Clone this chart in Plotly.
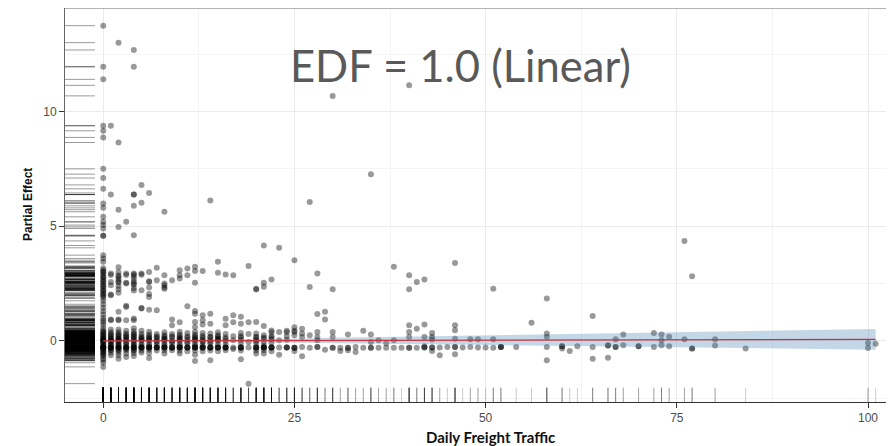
import plotly.graph_objects as go

# ---------------- data ----------------
# dense band around zero: column x value and the partial effects in that column
core_cols = [0, 1, 2, 3, 4, 5, 6, 7, 8, 9, 10, 11, 12, 13, 14, 15, 16, 17, 18, 19, 20,
             21, 22, 23, 24, 25, 26, 27, 28, 29, 30, 31, 32, 33, 34, 35, 36, 37, 38, 39, 40,
             41, 42, 43, 44, 45, 46, 47, 48, 49, 50, 51, 52, 54, 56, 58, 60, 61, 62, 64,
             66, 67, 68, 70, 72, 73, 74, 76, 77, 80, 84, 100, 101]
core_vals = [
    [0.55, 0.45, 0.35, 0.25, 0.15, 0.05, -0.05, -0.15, -0.25, -0.3, -0.35, -0.45, -0.55, -0.65, -0.75, -0.84, -0.95, -1.13],
    [0.5, 0.38, 0.25, 0.12, 0.0, -0.1, -0.2, -0.29, -0.38, -0.5, -0.62],
    [0.5, 0.38, 0.25, 0.12, 0.0, -0.1, -0.2, -0.29, -0.38, -0.5, -0.62, -0.78],
    [0.45, 0.33, 0.2, 0.08, -0.05, -0.18, -0.29, -0.4, -0.55, -0.7],
    [0.55, 0.42, 0.3, 0.18, 0.05, -0.08, -0.2, -0.29, -0.4, -0.52, -0.66],
    [0.45, 0.3, 0.15, 0.02, -0.12, -0.29, -0.4, -0.5],
    [0.4, 0.28, 0.15, 0.02, -0.12, -0.29, -0.38, -0.52, -0.74],
    [0.3, 0.15, 0.0, -0.15, -0.29, -0.42],
    [0.38, 0.25, 0.12, 0.0, -0.12, -0.29, -0.4, -0.55],
    [0.3, 0.15, 0.02, -0.1, -0.29, -0.4],
    [0.4, 0.28, 0.15, 0.02, -0.12, -0.29, -0.42, -0.55],
    [0.35, 0.2, 0.05, -0.1, -0.29, -0.45],
    [0.4, 0.28, 0.15, 0.02, -0.12, -0.29, -0.42, -0.6],
    [0.35, 0.22, 0.08, -0.05, -0.18, -0.29, -0.45],
    [0.32, 0.18, 0.05, -0.1, -0.29, -0.42],
    [0.38, 0.25, 0.12, 0.0, -0.15, -0.29, -0.45],
    [0.3, 0.15, 0.0, -0.15, -0.29, -0.4],
    [0.2, 0.03, -0.29, -0.35],
    [0.35, 0.2, 0.05, -0.1, -0.29, -0.42],
    [0.3, -0.05, -0.29],
    [0.32, 0.18, 0.05, -0.1, -0.29, -0.42, -0.55],
    [0.25, 0.1, -0.05, -0.2, -0.29, -0.4, -0.55],
    [0.38, 0.22, 0.08, -0.08, -0.29, -0.45],
    [0.03, -0.29, -0.6],
    [0.38, 0.2, 0.05, -0.29],
    [0.44, 0.39, 0.25, -0.3, -0.44],
    [0.53, 0.32, 0.17, -0.26, -0.67],
    [0.25, -0.3],
    [0.39, 0.17, 0.03, -0.26],
    [-0.38],
    [0.39, 0.17, -0.3],
    [-0.3, -0.44],
    [0.28, -0.3, -0.4],
    [-0.26, -0.48],
    [0.44, -0.3],
    [0.28, -0.04, -0.3],
    [0.03, -0.3],
    [-0.1, -0.3],
    [0.03, -0.3],
    [-0.3],
    [0.68, 0.39, 0.17, -0.3],
    [0.53, -0.3],
    [0.72, 0.17, -0.23, -0.29],
    [0.35, 0.17, 0.06, -0.29, -0.44],
    [-0.29, -0.62],
    [-0.26],
    [0.68, 0.47, 0.1, -0.26, -0.58],
    [-0.29],
    [0.07, -0.26],
    [0.07, -0.29],
    [-0.29],
    [0.07, -0.3],
    [-0.26, -0.26],
    [-0.26],
    [0.79],
    [0.32, 0.17, -0.26, -0.84],
    [-0.23, -0.33],
    [-0.44],
    [-0.23],
    [1.09, -0.26, -0.77],
    [-0.2, -0.2, -0.73],
    [0.07, -0.26, -0.26],
    [0.28, -0.19],
    [-0.23, -0.23],
    [0.35, -0.26],
    [0.28, 0.03, -0.19],
    [0.18, -0.23],
    [0.07],
    [-0.33, -0.33],
    [0.07, -0.2],
    [-0.33],
    [-0.09, -0.31],
    [-0.12],
]

# repeated (overlapping) observations in the darkest part of the band
dense_cols = [0, 1, 2, 3, 4, 5, 6, 7, 8, 9, 10, 11, 12, 13, 14, 15, 16, 18, 20, 21, 22, 24, 25,
              28, 30, 32, 35, 40, 42, 43, 46, 52, 60]
dense_vals = [
    [0.3, 0.1, -0.1, -0.29, -0.29, -0.4, -0.2, 0.0, 0.2, -0.5, -0.6, 0.4, -0.29, 0.1, -0.29, 0.0],
    [0.3, 0.1, -0.29, -0.29, -0.4, 0.05, -0.15, -0.29, 0.2, 0.0],
    [0.3, 0.1, -0.29, -0.29, -0.4, 0.05, -0.15, 0.2, -0.29, 0.0],
    [0.25, 0.05, -0.29, -0.29, -0.35, -0.1, -0.29, 0.15],
    [0.3, 0.1, -0.29, -0.29, -0.4, 0.0, -0.15, -0.29, 0.2],
    [0.2, 0.05, -0.29, -0.29, -0.2, -0.29, 0.1],
    [0.2, 0.05, -0.29, -0.29, -0.2, -0.29, 0.1],
    [0.2, -0.29, -0.29, -0.05, -0.29, 0.1],
    [0.2, 0.05, -0.29, -0.29, -0.2, -0.29, 0.1],
    [0.2, -0.29, -0.29, -0.05, -0.29],
    [0.2, 0.05, -0.29, -0.29, -0.2, -0.29, 0.1],
    [0.15, -0.29, -0.29, -0.05, -0.29],
    [0.2, 0.05, -0.29, -0.29, -0.2, -0.29, 0.1],
    [0.15, -0.29, -0.29, 0.0, -0.29],
    [0.15, -0.29, -0.29, -0.05, -0.29],
    [0.2, -0.29, -0.29, 0.05, -0.29, 0.1],
    [0.1, -0.29, -0.29, -0.29],
    [0.15, -0.29, -0.29, -0.29],
    [0.15, -0.29, -0.29, 0.0, -0.29],
    [0.15, -0.29, -0.29, -0.29],
    [0.15, -0.29, -0.29, -0.29],
    [-0.29, -0.29],
    [-0.3, -0.3],
    [-0.26],
    [-0.3],
    [-0.3],
    [-0.3],
    [-0.3],
    [-0.29],
    [-0.29],
    [-0.26],
    [-0.26],
    [-0.23],
]

# middle / upper band (roughly 0.6 .. 3.8)
mid_cols = [0, 1, 2, 3, 4, 5, 6, 7, 8, 9, 10, 11, 12, 13, 14, 15, 16, 17, 18, 19, 20,
            21, 22, 23, 24, 25, 27, 28, 29, 30, 38, 40, 41, 42, 46, 51, 58, 77]
mid_vals = [
    [3.74, 3.59, 3.45, 3.17, 3.08, 2.98, 2.88, 2.78, 2.68, 2.58, 2.48, 2.38, 2.28, 2.18, 2.08, 1.98, 1.88, 1.75, 1.6, 1.45, 1.3, 1.15, 1.0, 0.9, 0.8, 0.7, 3.0, 2.8, 2.6, 2.4, 2.2, 2.0],
    [2.94, 2.87, 2.57, 2.43, 2.02, 1.99, 0.93, 0.9],
    [3.21, 2.99, 2.85, 2.7, 2.55, 2.4, 2.25, 2.1, 1.27, 0.93, 0.9, 2.8, 2.6],
    [2.94, 2.87, 2.54, 2.5, 1.53, 1.48, 0.9],
    [2.94, 2.82, 2.7, 2.58, 2.45, 2.3, 2.2, 0.98, 0.9, 2.9, 2.5],
    [2.94, 2.89, 2.21, 1.44, 1.41],
    [3.01, 2.6, 2.57, 2.33, 2.05, 1.92, 1.36],
    [3.19, 2.65, 1.34],
    [2.86, 2.5, 2.43, 2.33, 2.28],
    [2.65, 0.93, 0.68],
    [3.08, 2.86, 2.72, 0.82],
    [3.16, 2.86, 1.51],
    [3.23, 3.05, 2.54, 1.31, 1.19, 0.83, 0.61],
    [3.05, 1.12, 0.9, 0.72],
    [1.19, 0.75],
    [3.45, 2.97],
    [2.9, 0.97, 0.68],
    [2.86, 1.12, 0.82],
    [1.05, 0.75],
    [3.27, 0.82],
    [2.28, 2.24, 0.83],
    [2.54, 2.36, 0.65],
    [2.68, 0.46],
    [0.39],
    [0.44],
    [3.52, 0.6],
    [2.35],
    [2.94, 1.17],
    [1.27, 0.93],
    [2.25],
    [3.23],
    [2.86, 2.25],
    [2.57],
    [2.68],
    [3.4],
    [2.28],
    [1.85],
    [2.82],
]

# isolated high and low residuals
out_x = [0, 2, 4, 0, 4, 0, 0, 1, 0, 0, 2, 0, 0, 0, 1, 4, 4, 5, 6, 14, 0, 0, 2, 4, 5, 8,
         0, 0, 0, 0, 3, 2, 4, 0, 0, 21, 23, 30, 40, 35, 27, 76,
         12, 14, 18, 19]
out_y = [13.74, 13.0, 12.68, 11.95, 11.95, 11.4, 9.38, 9.38, 9.16, 8.87, 8.65, 7.5, 7.1, 6.63,
         6.38, 6.38, 6.38, 6.8, 6.45, 6.12, 5.99, 5.8, 5.72, 5.89, 6.02, 5.63,
         5.41, 5.19, 5.05, 4.9, 5.19, 4.97, 4.61, 4.58, 4.58, 4.16, 4.06, 10.68, 11.14, 7.27,
         6.06, 4.36, -0.87, -0.84, -0.8, -1.86]

# fitted linear smooth and its confidence band
fit_x = [0, 10, 20, 30, 40, 50, 60, 70, 80, 90, 101]
fit_y = [0.00, 0.01, 0.01, 0.02, 0.03, 0.03, 0.04, 0.05, 0.06, 0.06, 0.07]
fit_hi = [0.03, 0.04, 0.08, 0.14, 0.19, 0.24, 0.30, 0.35, 0.41, 0.46, 0.52]
fit_lo = [-0.03, -0.02, -0.06, -0.10, -0.13, -0.18, -0.22, -0.25, -0.29, -0.34, -0.38]

x_ticks = [0, 25, 50, 75, 100]
y_ticks = [0, 5, 10]

# ---------------- assemble points ----------------
px, py = [], []
for cols, valss in ((core_cols, core_vals), (dense_cols, dense_vals), (mid_cols, mid_vals)):
    for c, vals in zip(cols, valss):
        for v in vals:
            px.append(c)
            py.append(v)
px += out_x
py += out_y

fig = go.Figure()

fig.add_trace(go.Scatter(
    x=px, y=py, mode="markers",
    marker=dict(size=6, color="rgba(0,0,0,0.4)", line=dict(width=0)),
    hoverinfo="skip", showlegend=False))

# confidence band
fig.add_trace(go.Scatter(x=fit_x, y=fit_lo, mode="lines", line=dict(width=0),
                         hoverinfo="skip", showlegend=False))
fig.add_trace(go.Scatter(x=fit_x, y=fit_hi, mode="lines", line=dict(width=0),
                         fill="tonexty", fillcolor="rgba(70,130,180,0.32)",
                         hoverinfo="skip", showlegend=False))
fig.add_trace(go.Scatter(x=fit_x, y=fit_y, mode="lines",
                         line=dict(color="#c8323c", width=1.2),
                         hoverinfo="skip", showlegend=False))

# rugs (left: y values, bottom: x values)
fig.add_trace(go.Scatter(
    x=[0.015] * len(py), y=py, xaxis="x2", yaxis="y", mode="markers",
    marker=dict(symbol="line-ew", size=25, line=dict(color="rgba(0,0,0,0.4)", width=1)),
    hoverinfo="skip", showlegend=False))
fig.add_trace(go.Scatter(
    x=px, y=[0.015] * len(px), xaxis="x", yaxis="y2", mode="markers",
    marker=dict(symbol="line-ns", size=12, line=dict(color="rgba(0,0,0,0.25)", width=0.8)),
    hoverinfo="skip", showlegend=False))

tick_font = dict(family="Liberation Sans, Arial, sans-serif", size=12, color="#4d4d4d")

# the page body adds an 8px offset, so the figure is 8px smaller than the window
fig.update_layout(
    width=886, height=438,
    margin=dict(l=57, r=0, t=0, b=44),
    paper_bgcolor="white", plot_bgcolor="white",
    xaxis=dict(range=[-5.0, 103.4], tickvals=x_ticks, ticks="outside", ticklen=5,
               tickcolor="#333333", tickfont=tick_font, showline=True, linecolor="#333333",
               linewidth=1, showgrid=True, gridcolor="#ebebeb", gridwidth=1, zeroline=False,
               automargin=False,
               minor=dict(tickvals=[12.5, 37.5, 62.5, 87.5], showgrid=True,
                          gridcolor="#f4f4f4", gridwidth=1)),
    yaxis=dict(range=[-2.66, 14.51], tickvals=y_ticks, ticks="outside", ticklen=5,
               tickcolor="#333333", tickfont=tick_font, showline=True, linecolor="#666666",
               linewidth=1, showgrid=True, gridcolor="#ebebeb", gridwidth=1, zeroline=False,
               automargin=False,
               minor=dict(tickvals=[-2.5, 2.5, 7.5, 12.5], showgrid=True,
                          gridcolor="#f4f4f4", gridwidth=1)),
    xaxis2=dict(overlaying="x", anchor="y", range=[0, 1], visible=False),
    yaxis2=dict(overlaying="y", anchor="x", range=[0, 1], visible=False),
    shapes=[dict(type="line", xref="paper", yref="paper", x0=0, x1=1, y0=0.999, y1=0.999,
                 line=dict(color="#aaaaaa", width=1))],
    annotations=[
        dict(text="EDF = 1.0 (Linear)", xref="paper", yref="paper", x=0.477, y=0.855,
             xanchor="center", yanchor="middle", showarrow=False,
             font=dict(family="Lato, Open Sans, sans-serif", size=43.5, color="#595959")),
        dict(text="<b>Partial Effect</b>", xref="paper", yref="paper", x=-37 / 829, y=0.5,
             xanchor="center", yanchor="middle", textangle=-90, showarrow=False,
             font=dict(family="Liberation Sans, Arial, sans-serif", size=12, color="#111111")),
        dict(text="<b>Daily Freight Traffic</b>", xref="paper", yref="paper",
             x=(490 - 65) / 829, y=-(437 - 402) / 394, xanchor="center", yanchor="middle",
             showarrow=False,
             font=dict(family="Lato, Open Sans, sans-serif", size=15, color="#111111")),
    ],
)

fig.write_html("out.html")
